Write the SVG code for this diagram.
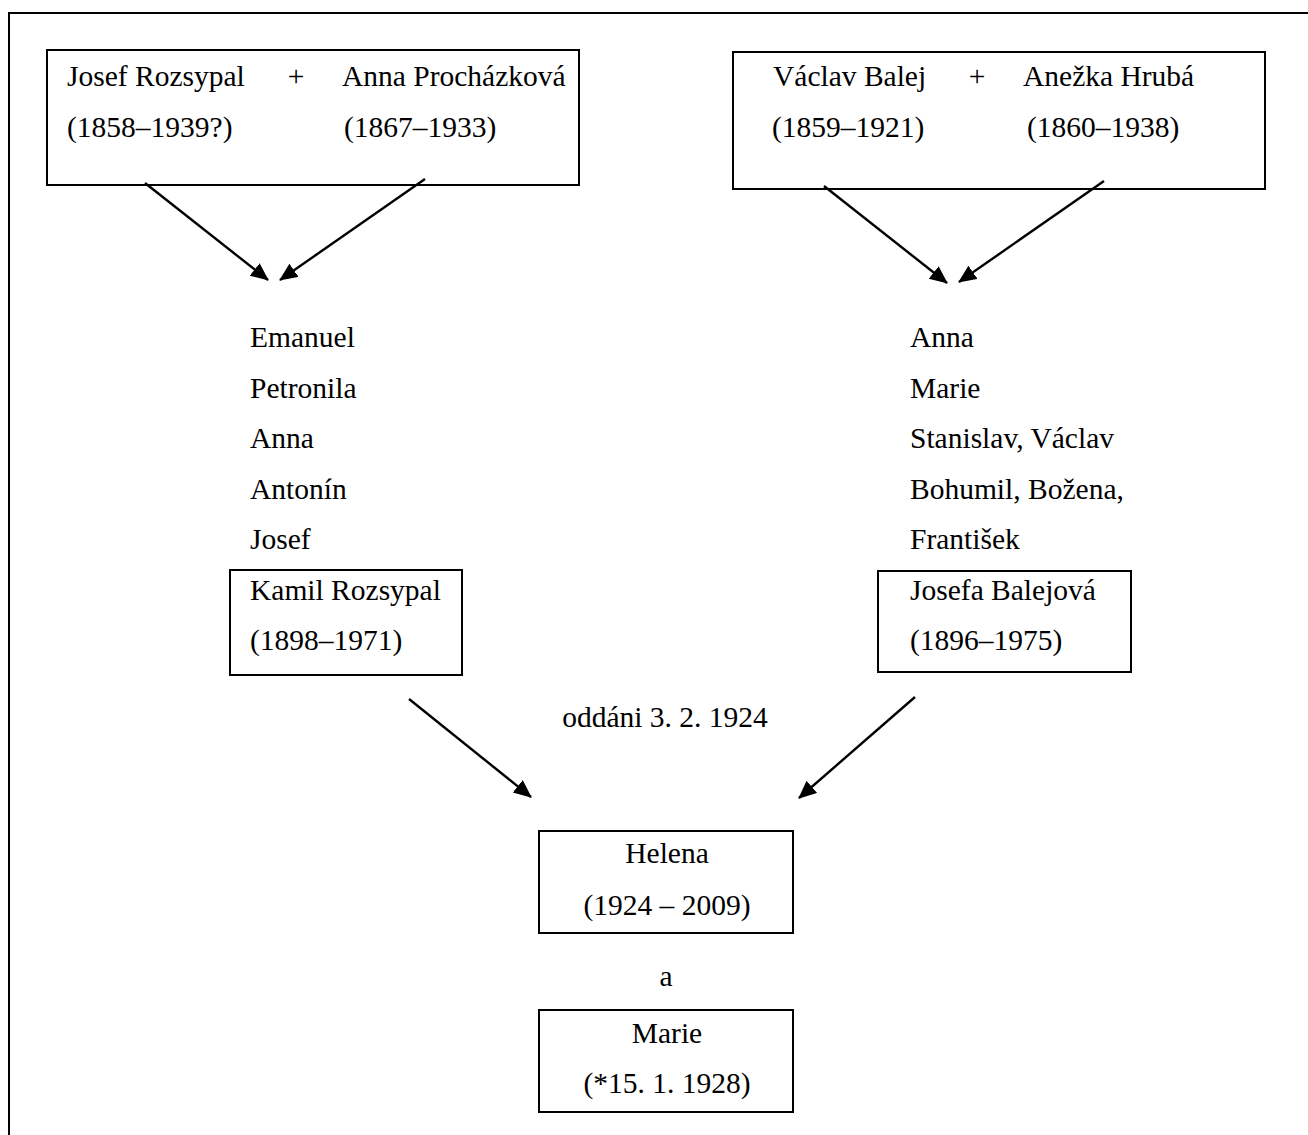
<svg xmlns="http://www.w3.org/2000/svg" width="1308" height="1135" viewBox="0 0 1308 1135">
<style>
text{font-family:"Liberation Serif","Times New Roman",serif;font-size:29.5px;fill:#000}
.c{text-anchor:middle}
.box{fill:none;stroke:#000;stroke-width:2}
.arr{stroke:#000;stroke-width:2.4;fill:none;marker-end:url(#ah)}
</style>
<defs>
<marker id="ah" markerUnits="userSpaceOnUse" markerWidth="20" markerHeight="18" refX="17" refY="8" orient="auto">
<path d="M0,0 L18,8 L0,16 Z" fill="#000"/>
</marker>
</defs>
<rect width="1308" height="1135" fill="#fff"/>
<path d="M9,1135 V13 H1308" fill="none" stroke="#000" stroke-width="2"/>
<g id="parents-rozsypal">
<rect class="box" x="47" y="50" width="532" height="135"/>
<text x="67" y="86">Josef Rozsypal</text>
<text x="296" y="86" class="c">+</text>
<text x="342" y="86">Anna Procházková</text>
<text x="67" y="137">(1858–1939?)</text>
<text x="344" y="137">(1867–1933)</text>
</g>
<g id="parents-balej">
<rect class="box" x="733" y="52" width="532" height="137"/>
<text x="773" y="86">Václav Balej</text>
<text x="977" y="86" class="c">+</text>
<text x="1023" y="86">Anežka Hrubá</text>
<text x="772" y="137">(1859–1921)</text>
<text x="1027" y="137">(1860–1938)</text>
</g>
<g id="children-rozsypal">
<text x="250" y="347">Emanuel</text>
<text x="250" y="397.5">Petronila</text>
<text x="250" y="448">Anna</text>
<text x="250" y="498.5">Antonín</text>
<text x="250" y="549">Josef</text>
</g>
<g id="kamil">
<rect class="box" x="230" y="570" width="232" height="105"/>
<text x="250" y="599.5">Kamil Rozsypal</text>
<text x="250" y="650">(1898–1971)</text>
</g>
<g id="children-balej">
<text x="910" y="347">Anna</text>
<text x="910" y="397.5">Marie</text>
<text x="910" y="448">Stanislav, Václav</text>
<text x="910" y="498.5">Bohumil, Božena,</text>
<text x="910" y="549">František</text>
</g>
<g id="josefa">
<rect class="box" x="878" y="571" width="253" height="101"/>
<text x="910" y="599.5">Josefa Balejová</text>
<text x="910" y="650">(1896–1975)</text>
</g>
<g id="marriage">
<text x="665" y="727" class="c">oddáni 3. 2. 1924</text>
</g>
<g id="helena">
<rect class="box" x="539" y="831" width="254" height="102"/>
<text x="667" y="863" class="c">Helena</text>
<text x="667" y="915" class="c">(1924 – 2009)</text>
</g>
<g id="and">
<text x="666" y="986" class="c">a</text>
</g>
<g id="marie">
<rect class="box" x="539" y="1010" width="254" height="102"/>
<text x="667" y="1043" class="c">Marie</text>
<text x="667" y="1093" class="c">(*15. 1. 1928)</text>
</g>
<g id="connectors">
<line class="arr" x1="145" y1="183" x2="268" y2="280"/>
<line class="arr" x1="425" y1="179" x2="280" y2="280"/>
<line class="arr" x1="824" y1="186" x2="947" y2="283"/>
<line class="arr" x1="1104" y1="181" x2="959" y2="282"/>
<line class="arr" x1="409" y1="699" x2="531" y2="797"/>
<line class="arr" x1="915" y1="697" x2="799" y2="798"/>
</g>
</svg>
